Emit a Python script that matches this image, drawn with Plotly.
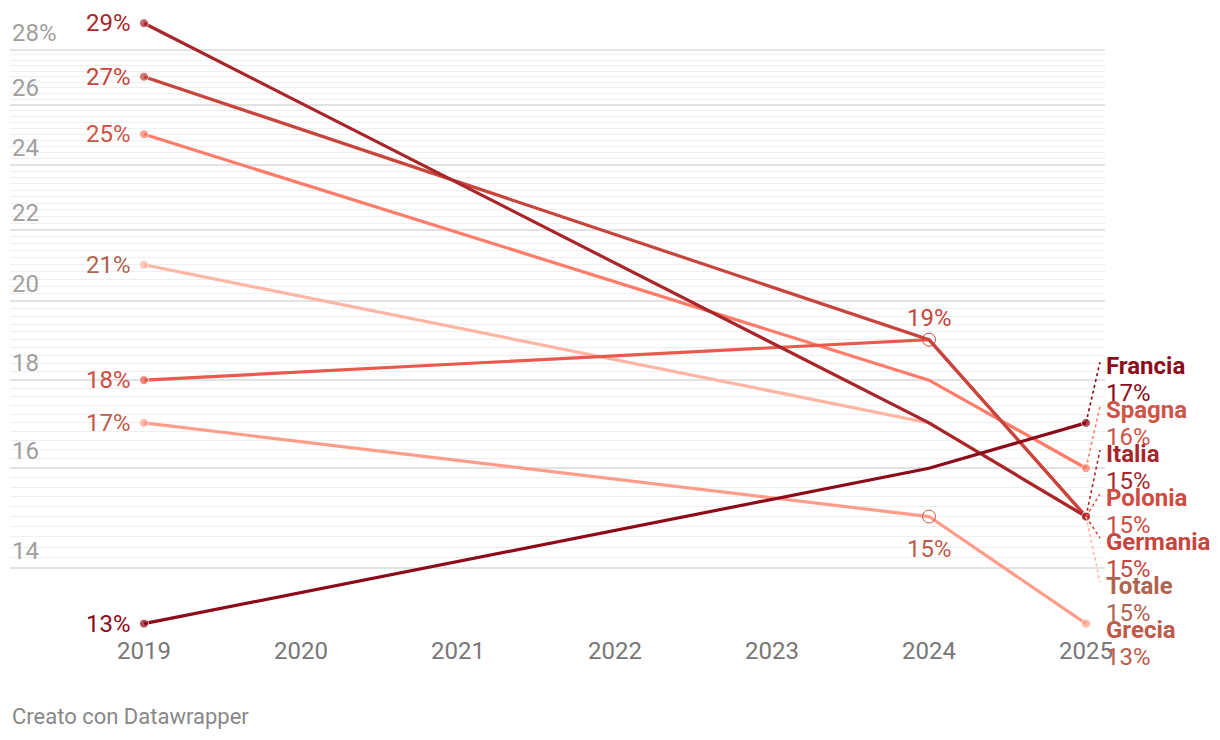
import math
import plotly.graph_objects as go

# ---------------- data ----------------
years = [2019, 2024, 2025]
series_names = ["Francia", "Spagna", "Italia", "Polonia", "Germania", "Totale", "Grecia"]
francia = [13, 16, 17]
spagna = [25, 18, 16]
italia = [29, 17, 15]
polonia = [18, 19, 15]
germania = [27, 19, 15]
totale = [21, 17, 15]
grecia = [17, 15, 13]
series_values = [francia, spagna, italia, polonia, germania, totale, grecia]
highlight = {"Germania": 2024, "Grecia": 2024}   # points with open circle + label
x_tick_years = [2019, 2020, 2021, 2022, 2023, 2024, 2025]
y_major = [14, 16, 18, 20, 22, 24, 26, 28]
y_minor = [round(14 + 0.2 * i, 1) for i in range(71) if i % 10 != 0]
credit = "Creato con Datawrapper"

# ---------------- styles ----------------
line_colors = {
    "Francia": "#8c0a1a", "Italia": "#a8262a", "Germania": "#c9443c",
    "Polonia": "#e85a4d", "Spagna": "#ff7b6a", "Grecia": "#ff9d8a", "Totale": "#ffb5a3",
}
label_colors = {
    "Francia": "#8c0a1a", "Italia": "#a8262a", "Germania": "#c8443c",
    "Polonia": "#d04c42", "Spagna": "#cf5448", "Grecia": "#c05a4a", "Totale": "#b0634f",
}
draw_order = ["Totale", "Grecia", "Spagna", "Polonia", "Germania", "Italia", "Francia"]
FONT = "Roboto"
FS = 24

W, H = 1220, 740
ML, MR, MT, MB = 2, 123, 2, 118
plot_w = W - ML - MR
plot_h = H - MT - MB
px_per_year = 157.0
x_range = [2019 - 134 / px_per_year, 2019 - 134 / px_per_year + plot_w / px_per_year]
px_per_log = 1723.0
y_top_log = math.log10(28) + 39.5 / px_per_log
y_range = [y_top_log - plot_h / px_per_log, y_top_log]


def py_of(v):
    return MT + (y_top_log - math.log10(v)) * px_per_log


def log_of_py(py):
    return y_top_log - (py - MT) / px_per_log


def paper_of_py(py):
    return (MT + plot_h - py) / plot_h


data = dict(zip(series_names, series_values))
fig = go.Figure()

for name in draw_order:
    vals = data[name]
    fig.add_trace(go.Scatter(
        x=years, y=vals, mode="lines+markers",
        line=dict(color=line_colors[name], width=3.2),
        marker=dict(size=[9 if y in (years[0], years[-1]) else 0 for y in years],
                    color=line_colors[name]),
        cliponaxis=False, hoverinfo="skip", showlegend=False,
    ))

annotations = []

# left value labels
for name in series_names:
    v = data[name][0]
    annotations.append(dict(
        x=years[0], y=math.log10(v), xref="x", yref="y", text=f"{v:.0f}%",
        showarrow=False, xanchor="right", yanchor="middle", xshift=-11,
        font=dict(family=FONT, size=FS, color=label_colors[name]),
    ))

# highlighted points
for name, yr in highlight.items():
    i = years.index(yr)
    v = data[name][i]
    fig.add_trace(go.Scatter(
        x=[yr], y=[v], mode="markers",
        marker=dict(symbol="circle-open", size=13, color=label_colors[name],
                    line=dict(width=1, color=label_colors[name])),
        cliponaxis=False, hoverinfo="skip", showlegend=False,
    ))
    above = v >= max(data[n][i] for n in series_names) - 0.01
    annotations.append(dict(
        x=yr, y=math.log10(v), xref="x", yref="y", text=f"{v:.0f}%",
        showarrow=False, xanchor="center", yanchor="middle",
        yshift=22 if above else -32,
        font=dict(family=FONT, size=FS, color=label_colors[name]),
    ))

# right labels with collision resolution
order = sorted(range(len(series_names)), key=lambda k: -series_values[k][-1])
desired = [py_of(series_values[k][-1]) for k in order]
GAP = 44.0
clusters = []
for d in desired:
    clusters.append([1, d])
    while len(clusters) > 1:
        n1, s1 = clusters[-2]
        n2, s2 = clusters[-1]
        last1 = s1 / n1 + (n1 - 1) / 2 * GAP
        first2 = s2 / n2 - (n2 - 1) / 2 * GAP
        if last1 + GAP > first2:
            clusters[-2:] = [[n1 + n2, s1 + s2]]
        else:
            break
centers = []
for n, s in clusters:
    c = s / n
    for j in range(n):
        centers.append(c + (j - (n - 1) / 2) * GAP)

lead_dx = 14 / px_per_year
for k, cy in zip(order, centers):
    name = series_names[k]
    v = series_values[k][-1]
    name_cy = cy - 13.5
    val_cy = cy + 13.5
    annotations.append(dict(
        x=years[-1], y=paper_of_py(name_cy), xref="x", yref="paper",
        text=f"<b>{name}</b>", showarrow=False, xanchor="left", yanchor="middle",
        xshift=18, font=dict(family=FONT, size=FS, color=label_colors[name]),
    ))
    annotations.append(dict(
        x=years[-1], y=paper_of_py(val_cy), xref="x", yref="paper",
        text=f"{v:.0f}%", showarrow=False, xanchor="left", yanchor="middle",
        xshift=18, font=dict(family=FONT, size=FS, color=label_colors[name]),
    ))
    if abs(name_cy - py_of(v)) > 12:
        fig.add_trace(go.Scatter(
            x=[years[-1], years[-1] + lead_dx], y=[v, 10 ** log_of_py(name_cy - 4)],
            mode="lines", line=dict(color=line_colors[name], width=1.6, dash="dot"),
            cliponaxis=False, hoverinfo="skip", showlegend=False,
        ))

# y axis labels above gridlines
for t in y_major:
    annotations.append(dict(
        x=0, y=math.log10(t), xref="paper", yref="y",
        text=f"{t}%" if t == max(y_major) else f"{t}",
        showarrow=False, xanchor="left", yanchor="bottom", yshift=1,
        font=dict(family=FONT, size=FS, color="#a0a0a0"),
    ))

annotations.append(dict(
    x=0, y=0, xref="paper", yref="paper", text=credit, showarrow=False,
    xanchor="left", yanchor="middle", yshift=-86,
    font=dict(family=FONT, size=22, color="#888888"),
))

fig.update_layout(
    width=W, height=H, margin=dict(l=ML, r=MR, t=MT, b=MB),
    paper_bgcolor="white", plot_bgcolor="white",
    showlegend=False, hovermode=False, annotations=annotations,
    font=dict(family=FONT, size=FS),
    xaxis=dict(range=x_range, tickvals=x_tick_years, ticks="", showgrid=False,
               zeroline=False, showline=False, ticklabelstandoff=4,
               tickfont=dict(family=FONT, size=FS, color="#777777")),
    yaxis=dict(type="log", range=y_range, tickvals=y_major, showticklabels=False,
               ticks="", showgrid=True, gridcolor="#e2e2e2", gridwidth=1.5,
               zeroline=False, showline=False,
               minor=dict(tickvals=y_minor, showgrid=True, gridcolor="#efefef",
                          gridwidth=1.2, ticks="")),
)

fig.write_html("out.html")
